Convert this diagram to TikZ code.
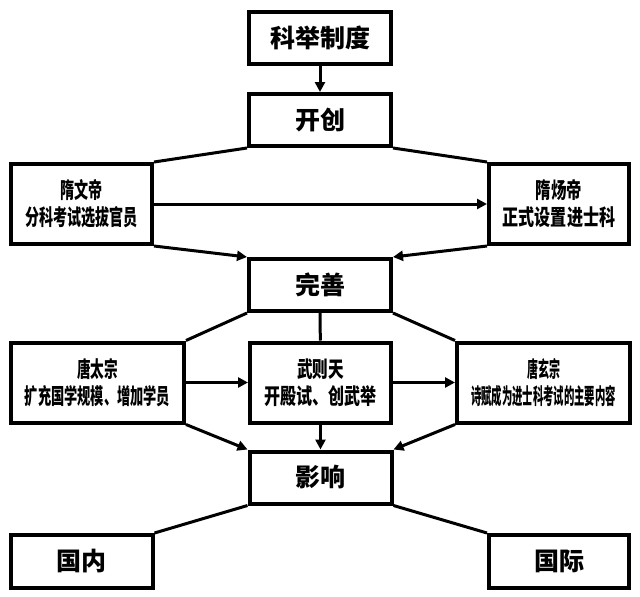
\documentclass[tikz,border=0pt]{standalone}
\usepackage{fontspec}
\usepackage{graphicx}
\usetikzlibrary{arrows.meta}
\newfontfamily\cjk{Noto Sans CJK SC}
\newcommand{\sq}[2]{\scalebox{#1}[1]{#2}}

\begin{document}
\begin{tikzpicture}[x=1pt, y=-1pt, >={Triangle[length=10pt, width=10pt]},
  box/.style={draw, line width=4pt, align=center, inner sep=0pt},
  bigbox/.style={box, minimum width=142pt, minimum height=52pt, font=\cjk\bfseries\fontsize{25}{28}\selectfont},
  smallbox/.style={box, minimum height=80pt, font=\cjk\bfseries\fontsize{22}{27}\selectfont},
  link/.style={line width=3pt}]
  \useasboundingbox (0,0) rectangle (640,597);

  % 开创
  \node[bigbox] (kj) at (320,38) {科举制度};
  \node[bigbox] (kc) at (320,120) {开创};
  \node[smallbox, minimum width=141pt] (wd) at (81.5,204) {\sq{0.64}{隋文帝}\\\sq{0.64}{分科考试选拔官员}};
  \node[smallbox, minimum width=140pt] (yd) at (559,204) {\sq{0.7}{隋炀帝}\\\sq{0.73}{正式设置进士科}};
  \draw[link, ->] (kj) -- (kc);
  \draw[link] (kc.south west) -- (wd.north east);
  \draw[link] (kc.south east) -- (yd.north west);
  \draw[link, ->] (wd) -- (yd);

  % 完善
  \node[bigbox] (ws) at (320,285) {完善};
  \draw[link, ->] (wd.south east) -- (ws.north west);
  \draw[link, ->] (yd.south west) -- (ws.north east);
  \node[smallbox, minimum width=173pt] (tz) at (97.5,382.5) {\sq{0.62}{唐太宗}\\\sq{0.6}{扩充国学规模、增加学员}};
  \node[smallbox, minimum width=141pt] (wz) at (320.5,382.5) {\sq{0.71}{武则天}\\\sq{0.73}{开殿试、创武举}};
  \node[smallbox, minimum width=173pt] (xz) at (543.5,382.5) {\sq{0.5}{唐玄宗}\\\sq{0.47}{诗赋成为进士科考试的主要内容}};
  \draw[link] (ws.south west) -- (tz.north east);
  \draw[link] (ws) -- (wz);
  \draw[link] (ws.south east) -- (xz.north west);
  \draw[link, ->] (tz) -- (wz);
  \draw[link, ->] (wz) -- (xz);

  % 影响
  \node[bigbox] (yx) at (320.5,477.5) {影响};
  \draw[link, ->] (tz.south east) -- (yx.north west);
  \draw[link, ->] (wz) -- (yx);
  \draw[link, ->] (xz.south west) -- (yx.north east);
  \node[bigbox, minimum height=53pt] (gn) at (81.5,561.5) {国内};
  \node[bigbox, minimum width=140pt, minimum height=53pt] (gj) at (559,561.5) {国际};
  \draw[link] (yx.south west) -- (gn.north east);
  \draw[link] (yx.south east) -- (gj.north west);
\end{tikzpicture}
\end{document}
